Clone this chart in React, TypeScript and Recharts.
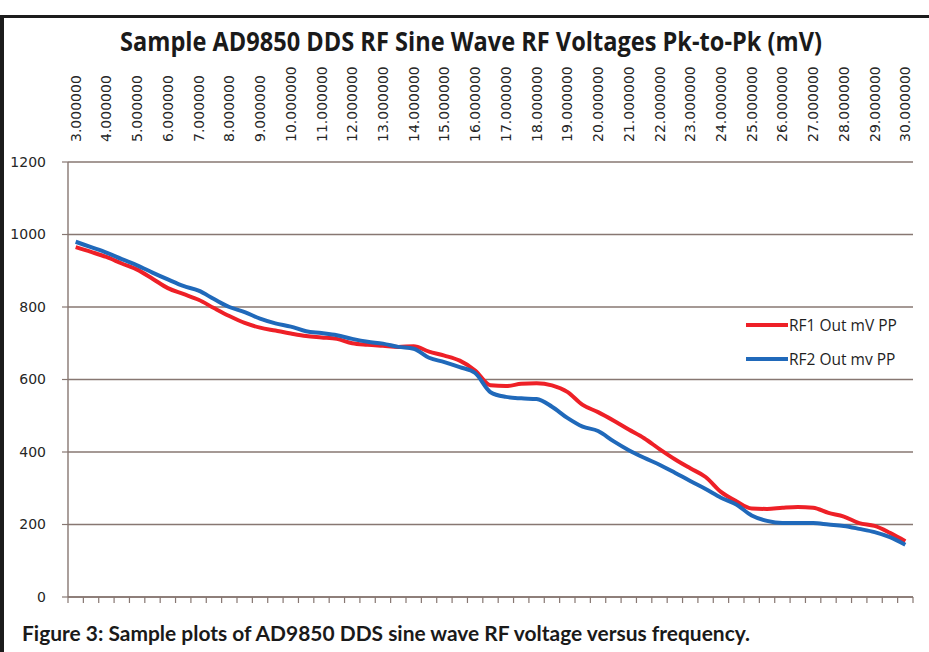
import React from "react";
import { LineChart, Line, XAxis, YAxis, CartesianGrid, Legend } from "recharts";

// frequencies in MHz, one reading every 0.5 MHz
const frequencies = [
  3, 3.5, 4, 4.5, 5, 5.5, 6, 6.5, 7, 7.5, 8, 8.5, 9, 9.5, 10, 10.5, 11, 11.5,
  12, 12.5, 13, 13.5, 14, 14.5, 15, 15.5, 16, 16.5, 17, 17.5, 18, 18.5, 19,
  19.5, 20, 20.5, 21, 21.5, 22, 22.5, 23, 23.5, 24, 24.5, 25, 25.5, 26, 26.5,
  27, 27.5, 28, 28.5, 29, 29.5, 30,
];

const rf1 = [
  965, 952, 938, 920, 903, 878, 852, 836, 820, 797,
  775, 756, 743, 735, 727, 720, 716, 712, 700, 696,
  693, 690, 692, 677, 666, 652, 625, 584, 582, 588,
  590, 584, 566, 530, 510, 487, 462, 438, 408, 380,
  355, 331, 290, 264, 244, 243, 246, 248, 246, 232,
  222, 204, 196, 177, 154,
];

const rf2 = [
  980, 965, 950, 932, 915, 895, 876, 858, 845, 822,
  800, 786, 768, 755, 746, 733, 728, 722, 712, 704,
  699, 690, 685, 660, 648, 634, 618, 565, 552, 548,
  546, 525, 494, 470, 458, 430, 405, 384, 365, 343,
  320, 298, 274, 255, 225, 210, 204, 204, 204, 200,
  196, 188, 179, 165, 144,
];

const labelFreqs = [
  3, 4, 5, 6, 7, 8, 9, 10, 11, 12, 13, 14, 15, 16, 17, 18, 19, 20, 21, 22, 23,
  24, 25, 26, 27, 28, 29, 30,
];
const yTicks = [0, 200, 400, 600, 800, 1000, 1200];

const data = frequencies.map((f, i) => ({ freq: f, rf1: rf1[i], rf2: rf2[i] }));
// tick marks sit between readings, like a category axis
const boundaryTicks = [...frequencies.map((f) => f - 0.25), 30.25];

const gridColor = "#877772";
const RED = "#ee2027";
const BLUE = "#2069ba";

function TopTick(props: any) {
  const { x, y, payload } = props;
  return (
    <text
      x={x}
      y={y}
      transform={`rotate(-90 ${x} ${y})`}
      textAnchor="start"
      dominantBaseline="central"
      fontSize={14}
      fill="#262626"
      fontFamily="DejaVu Sans"
    >
      {Number(payload.value).toFixed(6)}
    </text>
  );
}

function renderLegend(props: any) {
  const { payload } = props;
  return (
    <div>
      {payload.map((p: any) => (
        <div key={p.value} style={{ display: "flex", alignItems: "center", height: 34 }}>
          <span style={{ display: "inline-block", width: 42, height: 4, background: p.color }} />
          <span style={{ fontFamily: "Open Sans", fontSize: 15.5, color: "#1e1e1e", marginLeft: 1 }}>
            {p.value}
          </span>
        </div>
      ))}
    </div>
  );
}

export default function App() {
  return (
    <div style={{ position: "fixed", left: 0, top: 0, width: 929, height: 652, background: "#fff", overflow: "hidden" }}>
      <div style={{ position: "absolute", left: 0, top: 15, width: 929, height: 3, background: "#1c1c1c" }} />
      <div style={{ position: "absolute", left: 0, top: 15, width: 4, height: 637, background: "#1c1c1c" }} />
      <div style={{ position: "absolute", left: 0, top: 0 }}>
        <LineChart width={929} height={652} data={data} margin={{ top: 12, right: 16, bottom: 35, left: 0 }}>
          <CartesianGrid vertical={false} stroke={gridColor} strokeWidth={1.4} />
          <XAxis
            xAxisId="top"
            orientation="top"
            dataKey="freq"
            type="number"
            domain={[2.75, 30.25]}
            ticks={labelFreqs}
            interval={0}
            tick={<TopTick />}
            axisLine={false}
            tickLine={false}
            tickMargin={14}
            height={150}
          />
          <XAxis
            xAxisId="bottom"
            orientation="bottom"
            dataKey="freq"
            type="number"
            domain={[2.75, 30.25]}
            ticks={boundaryTicks}
            interval={0}
            tickFormatter={() => ""}
            axisLine={{ stroke: gridColor, strokeWidth: 1.4 }}
            tickLine={{ stroke: gridColor, strokeWidth: 1.2 }}
            tickSize={6}
            height={20}
          />
          <YAxis
            domain={[0, 1200]}
            ticks={yTicks}
            interval={0}
            width={68}
            axisLine={{ stroke: gridColor, strokeWidth: 1.4 }}
            tickLine={{ stroke: gridColor, strokeWidth: 1.2 }}
            tickSize={6}
            tickMargin={16}
            tick={{ fontSize: 14, fill: "#262626", fontFamily: "DejaVu Sans" }}
          />
          <Legend
            layout="vertical"
            align="center"
            verticalAlign="middle"
            content={renderLegend}
            wrapperStyle={{ left: 746, top: 308, width: 175 }}
          />
          <Line xAxisId="top" type="monotone" dataKey="rf1" name="RF1 Out mV PP" stroke={RED} strokeWidth={4} dot={false} isAnimationActive={false} />
          <Line xAxisId="top" type="monotone" dataKey="rf2" name="RF2 Out mv PP" stroke={BLUE} strokeWidth={4} dot={false} isAnimationActive={false} />
        </LineChart>
      </div>
      <svg width={929} height={652} style={{ position: "absolute", left: 0, top: 0, pointerEvents: "none" }}>
        <text x={471} y={51} textAnchor="middle" fontSize={27} fontWeight={700} fontFamily="Open Sans" fill="#1a1a1a" textLength={702} lengthAdjust="spacingAndGlyphs">
          Sample AD9850 DDS RF Sine Wave RF Voltages Pk-to-Pk (mV)
        </text>
        <text x={22} y={641} fontSize={20} fontWeight={700} fontFamily="Lato" fill="#1a1a1a" textLength={728} lengthAdjust="spacingAndGlyphs">
          Figure 3: Sample plots of AD9850 DDS sine wave RF voltage versus frequency.
        </text>
      </svg>
    </div>
  );
}
